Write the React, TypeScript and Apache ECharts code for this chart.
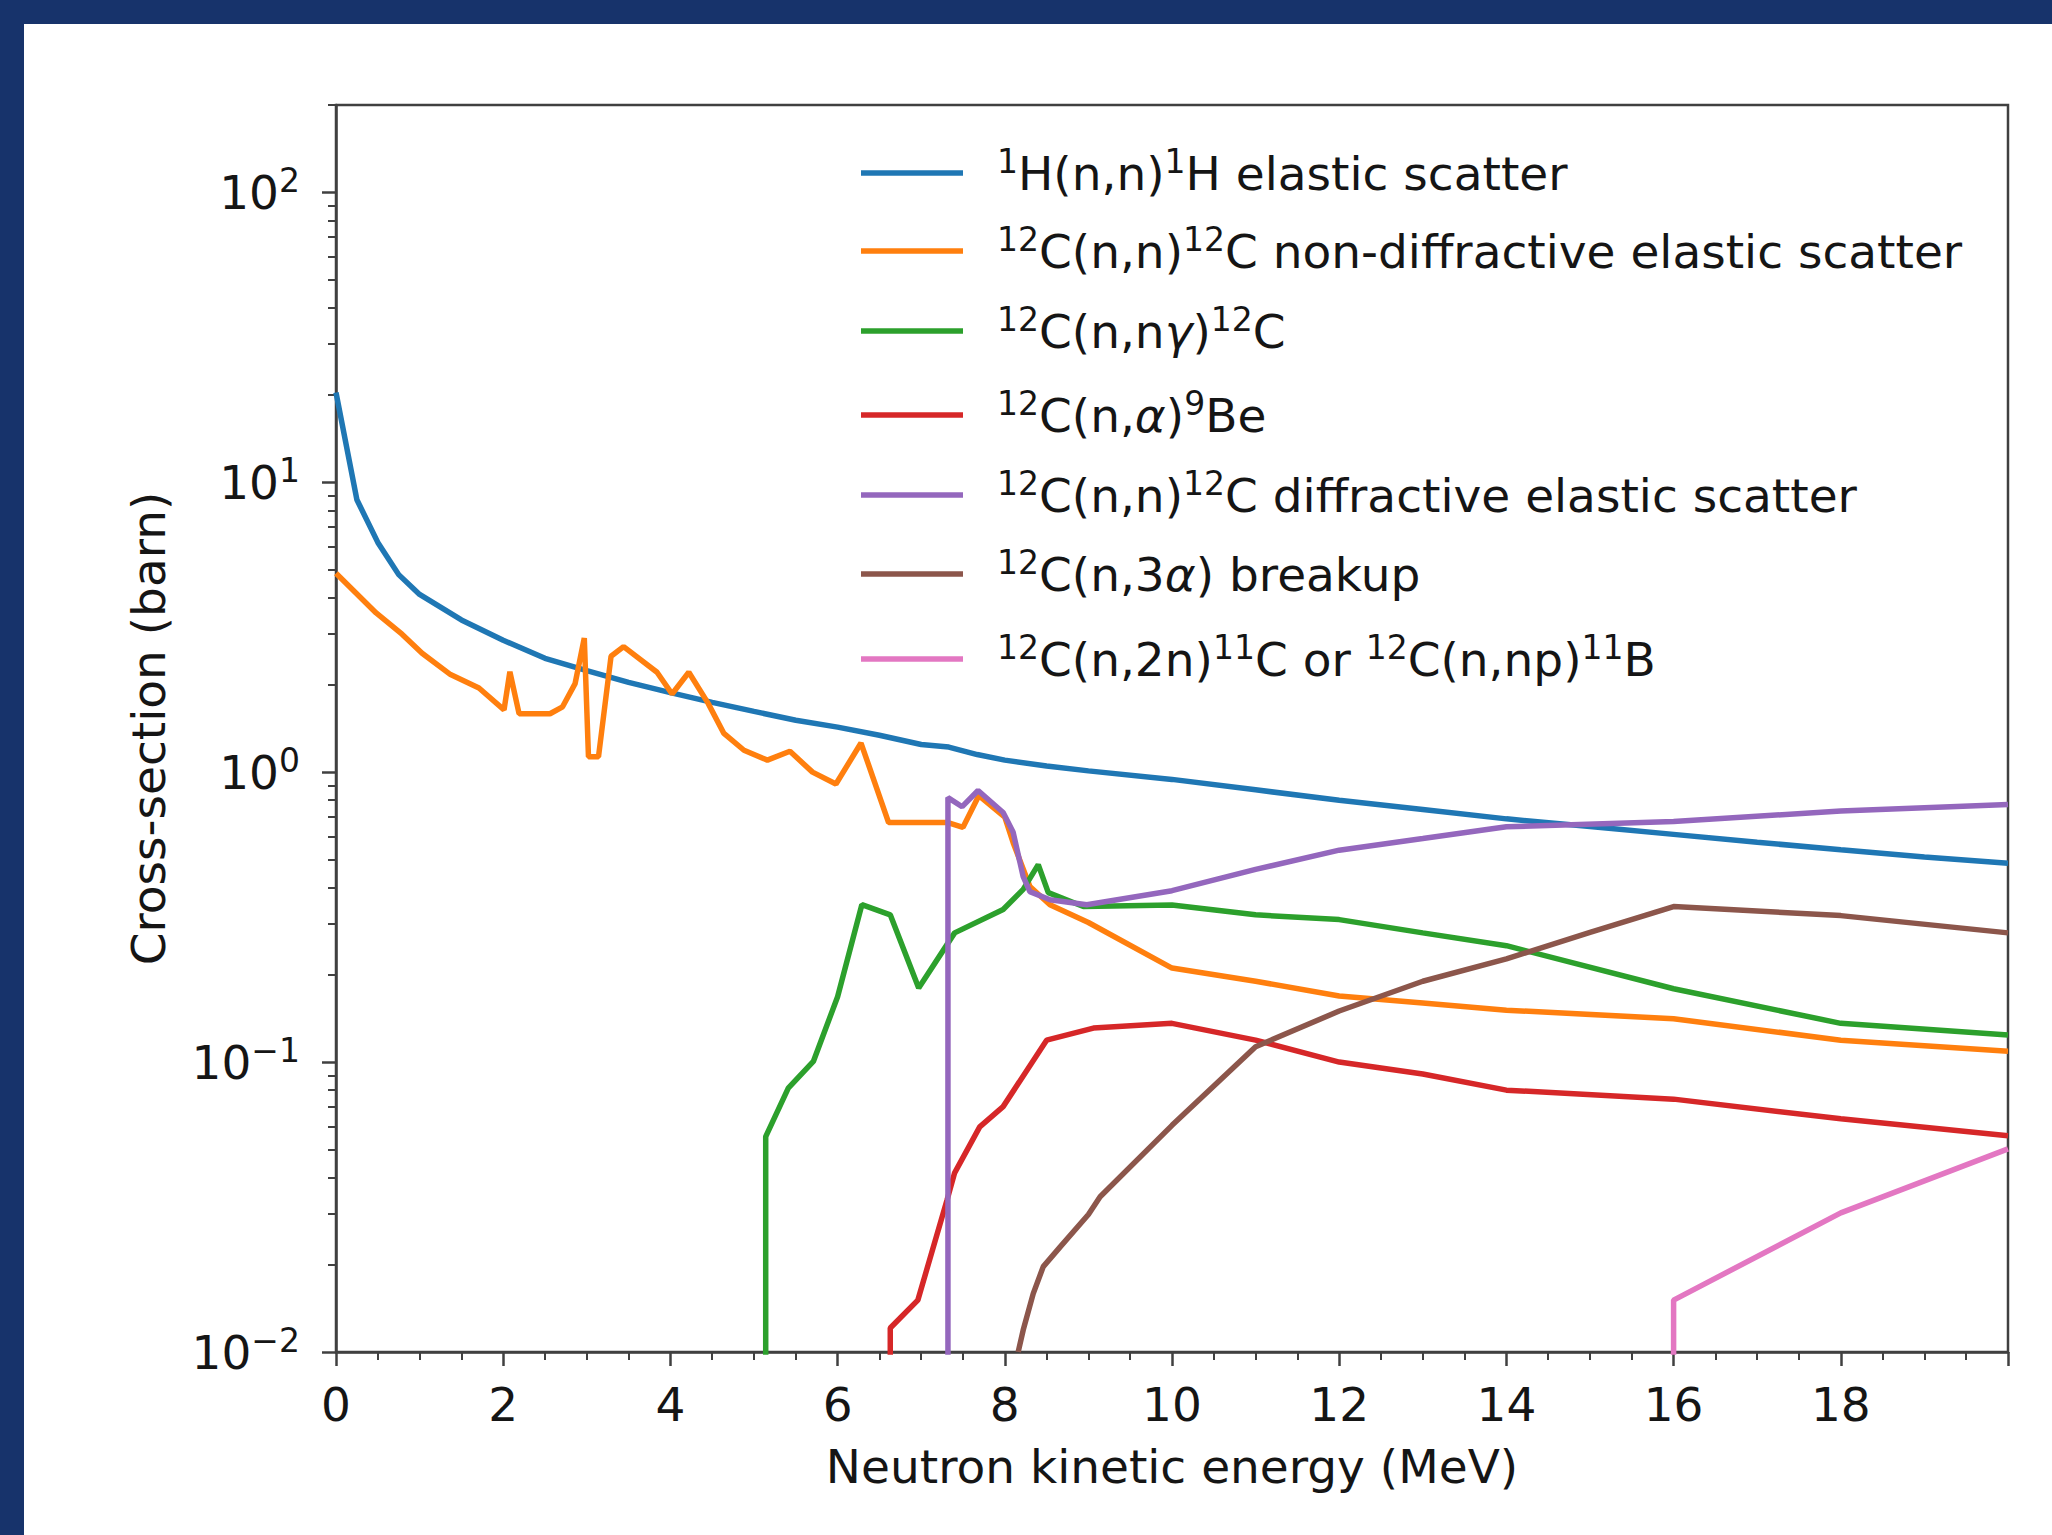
import React, { useEffect, useRef } from "react";
import * as echarts from "echarts";

// ---------- data (E in MeV, cross-section in barn) ----------
const xTickLabels = [0, 2, 4, 6, 8, 10, 12, 14, 16, 18];
const yMajorTicks = [0.01, 0.1, 1, 10, 100];
const yMinorTicks = [
  0.02, 0.03, 0.04, 0.05, 0.06, 0.07, 0.08, 0.09,
  0.2, 0.3, 0.4, 0.5, 0.6, 0.7, 0.8, 0.9,
  2, 3, 4, 5, 6, 7, 8, 9,
  20, 30, 40, 50, 60, 70, 80, 90, 200,
];

const hElastic = [
  [0, 20.4], [0.25, 8.7], [0.5, 6.2], [0.75, 4.8], [1.0, 4.1], [1.5, 3.35],
  [2, 2.85], [2.5, 2.47], [3, 2.24], [3.5, 2.04], [4, 1.88], [4.5, 1.74],
  [5, 1.62], [5.5, 1.51], [6, 1.43], [6.5, 1.34], [7, 1.245], [7.33, 1.22],
  [7.67, 1.15], [8, 1.1], [8.5, 1.05], [9, 1.01], [10, 0.944], [11, 0.869],
  [12, 0.8], [13, 0.743], [14, 0.69], [15, 0.649], [16, 0.61], [17, 0.573],
  [18, 0.54], [19, 0.51], [20, 0.485],
];

const cNonDiffractive = [
  [0, 4.85], [0.48, 3.54], [0.79, 2.99], [1.03, 2.57], [1.37, 2.17], [1.71, 1.95],
  [2.01, 1.64], [2.08, 2.22], [2.19, 1.59], [2.56, 1.59], [2.71, 1.68], [2.86, 2.02],
  [2.97, 2.9], [3.02, 1.13], [3.14, 1.13], [3.29, 2.51], [3.44, 2.71], [3.84, 2.21],
  [4.02, 1.86], [4.22, 2.21], [4.45, 1.73], [4.64, 1.36], [4.88, 1.19], [5.16, 1.1],
  [5.43, 1.18], [5.7, 1.0], [5.98, 0.91], [6.28, 1.26], [6.61, 0.67], [7.32, 0.67],
  [7.5, 0.645], [7.69, 0.83], [8.0, 0.7], [8.1, 0.571], [8.3, 0.403], [8.54, 0.349],
  [9, 0.303], [10, 0.211], [11, 0.19], [12, 0.169], [13, 0.16], [14, 0.151],
  [16, 0.141], [18, 0.119], [20, 0.109],
];

const cInelasticGamma = [
  [5.14, 0.003], [5.14, 0.0553], [5.41, 0.0813], [5.71, 0.1005], [6.0, 0.168],
  [6.29, 0.349], [6.63, 0.322], [6.97, 0.18], [7.4, 0.279], [7.98, 0.336],
  [8.22, 0.394], [8.4, 0.48], [8.52, 0.384], [8.94, 0.344], [10, 0.348],
  [11, 0.322], [12, 0.31], [13, 0.279], [14, 0.252], [16, 0.179], [18, 0.136],
  [20, 0.124],
];

const cAlpha = [
  [6.63, 0.003], [6.63, 0.0121], [6.96, 0.0151], [7.31, 0.0335], [7.4, 0.0415],
  [7.7, 0.0598], [7.98, 0.0702], [8.5, 0.119], [9.06, 0.131], [10, 0.136],
  [11, 0.119], [12, 0.1], [13, 0.091], [14, 0.08], [16, 0.0745], [18, 0.0637],
  [20, 0.0557],
];

const cDiffractive = [
  [7.32, 0.003], [7.32, 0.817], [7.49, 0.76], [7.68, 0.864], [7.98, 0.726],
  [8.1, 0.62], [8.22, 0.436], [8.3, 0.387], [8.54, 0.363], [8.98, 0.349],
  [10, 0.39], [11, 0.462], [12, 0.538], [13, 0.59], [14, 0.648], [16, 0.676],
  [18, 0.734], [20, 0.774],
];

const cBreakup = [
  [8.16, 0.01], [8.22, 0.0119], [8.34, 0.0159], [8.46, 0.0197], [8.66, 0.023],
  [9, 0.0298], [9.14, 0.0343], [10, 0.0605], [11, 0.113], [12, 0.15], [13, 0.19],
  [14, 0.227], [15, 0.28], [16, 0.344], [18, 0.32], [20, 0.279],
];

const c2n = [
  [16, 0.003], [16, 0.0151], [18, 0.0302], [20, 0.0502],
];

const seriesNames = [
  "1H(n,n)1H elastic scatter",
  "12C(n,n)12C non-diffractive elastic scatter",
  "12C(n,nγ)12C",
  "12C(n,α)9Be",
  "12C(n,n)12C diffractive elastic scatter",
  "12C(n,3α) breakup",
  "12C(n,2n)11C or 12C(n,np)11B",
];
const legendLabels = [
  "{sup|1}H(n,n){sup|1}H elastic scatter",
  "{sup|12}C(n,n){sup|12}C non-diffractive elastic scatter",
  "{sup|12}C(n,n{it|γ}){sup|12}C",
  "{sup|12}C(n,{it|α}){sup|9}Be",
  "{sup|12}C(n,n){sup|12}C diffractive elastic scatter",
  "{sup|12}C(n,3{it|α}) breakup",
  "{sup|12}C(n,2n){sup|11}C or {sup|12}C(n,np){sup|11}B",
];
const legendRowTops = [140, 218, 298, 382, 462, 541, 626];
const seriesData = [hElastic, cNonDiffractive, cInelasticGamma, cAlpha, cDiffractive, cBreakup, c2n];
const colors = ["#1f77b4", "#ff7f0e", "#2ca02c", "#d62728", "#9467bd", "#8c564b", "#e377c2"];

// ---------- styling ----------
const FONT = "DejaVu Sans";
const FS = 47;
const LH = 56;
const TXT = "#151515";
const FRAME = "#404040";
const richStyles = {
  sup: { fontSize: 33, lineHeight: 34, verticalAlign: "top", fontFamily: FONT, color: TXT },
  it: { fontSize: FS, lineHeight: LH, fontStyle: "italic", fontFamily: FONT, color: TXT },
};

function buildOption() {
  return {
    animation: false,
    backgroundColor: "#ffffff",
    graphic: [
      { type: "rect", left: 0, top: 0, shape: { width: 2052, height: 24 }, style: { fill: "#17336b" }, silent: true },
      { type: "rect", left: 0, top: 0, shape: { width: 24, height: 1535 }, style: { fill: "#17336b" }, silent: true },
    ],
    grid: {
      left: 336, top: 105, width: 1672, height: 1247,
      show: true, borderColor: FRAME, borderWidth: 2.5, backgroundColor: "transparent",
    },
    legend: seriesNames.map((n, i) => ({
      orient: "vertical",
      left: 856,
      top: legendRowTops[i],
      itemWidth: 102,
      itemHeight: 5.5,
      icon: "rect",
      selectedMode: false,
      data: [n],
      formatter: (name: string) => legendLabels[seriesNames.indexOf(name)],
      textStyle: {
        fontFamily: FONT, fontSize: FS, lineHeight: LH, color: TXT,
        padding: [0, 0, 0, 29],
        rich: richStyles,
      },
    })),
    xAxis: {
      type: "value",
      min: 0, max: 20, interval: 2,
      name: "Neutron kinetic energy (MeV)",
      nameLocation: "middle",
      nameGap: 86,
      nameTextStyle: { fontFamily: FONT, fontSize: FS, lineHeight: LH, color: TXT },
      axisLine: { show: true, onZero: false, lineStyle: { color: FRAME, width: 2.5 } },
      axisTick: { show: true, length: 14, lineStyle: { color: FRAME, width: 2.5 } },
      minorTick: { show: true, splitNumber: 4, length: 8, lineStyle: { color: FRAME, width: 2 } },
      axisLabel: {
        customValues: xTickLabels,
        margin: 24, fontFamily: FONT, fontSize: FS, lineHeight: LH, color: TXT,
      },
      splitLine: { show: false },
      minorSplitLine: { show: false },
    },
    yAxis: [
      {
        type: "log", logBase: 10, min: 0.01, max: 200,
        name: "Cross-section (barn)",
        nameLocation: "middle",
        nameGap: 160,
        nameTextStyle: { fontFamily: FONT, fontSize: FS, lineHeight: LH, color: TXT },
        axisLine: { show: true, lineStyle: { color: FRAME, width: 2.5 } },
        axisTick: { show: true, length: 14, customValues: yMajorTicks, lineStyle: { color: FRAME, width: 2.5 } },
        axisLabel: {
          customValues: yMajorTicks,
          margin: 36, fontFamily: FONT, fontSize: FS, lineHeight: LH, color: TXT,
          formatter: (v: number) => {
            const e = Math.round(Math.log10(v));
            return "10{sup|" + (e < 0 ? "\u2212" + -e : String(e)) + "}";
          },
          rich: richStyles,
        },
        splitLine: { show: false },
      },
      {
        type: "log", logBase: 10, min: 0.01, max: 200,
        position: "left", offset: 0,
        axisLine: { show: false },
        axisTick: { show: true, length: 8, customValues: yMinorTicks, lineStyle: { color: FRAME, width: 2 } },
        axisLabel: { show: false },
        splitLine: { show: false },
      },
    ],
    series: seriesData.map((d, i) => ({
      type: "line",
      name: seriesNames[i],
      data: d,
      yAxisIndex: 0,
      showSymbol: false,
      symbol: "none",
      clip: true,
      color: colors[i],
      lineStyle: { width: 5.5, color: colors[i] },
      itemStyle: { color: colors[i] },
      emphasis: { disabled: true },
      z: 3,
    })),
  };
}

export default function App() {
  const ref = useRef<HTMLDivElement>(null);
  useEffect(() => {
    if (!ref.current) return;
    const chart = echarts.init(ref.current, null, { renderer: "svg" });
    chart.setOption(buildOption() as any);
    return () => chart.dispose();
  }, []);
  return (
    <div
      ref={ref}
      style={{ position: "fixed", left: 0, top: 0, width: 2052, height: 1535 }}
    />
  );
}
